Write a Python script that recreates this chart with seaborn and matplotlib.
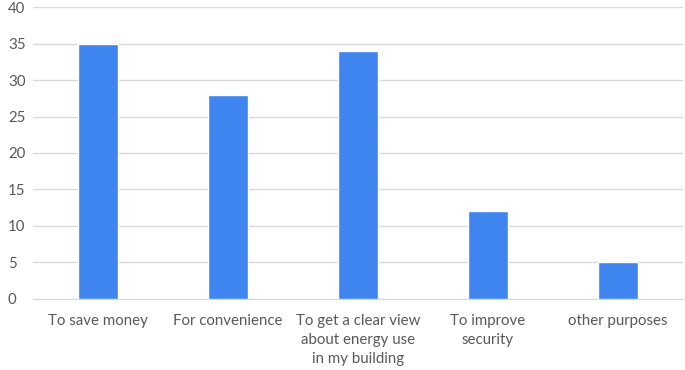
import matplotlib
matplotlib.use("Agg")
import pandas as pd
import seaborn as sns
import matplotlib.pyplot as plt

categories = ["To save money", "For convenience",
              "To get a clear view\nabout energy use\nin my building",
              "To improve\nsecurity", "other purposes"]
counts = [35, 28, 34, 12, 5]
y_ticks = [0, 5, 10, 15, 20, 25, 30, 35, 40]

sns.set_style("white")
plt.rcParams["font.family"] = ["Lato", "DejaVu Sans"]

dfr = pd.DataFrame({"category": categories, "count": counts})

fig = plt.figure(figsize=(6.85, 3.70), dpi=100)
ax = fig.add_axes([0.048, 0.192, 0.949, 0.789])
sns.barplot(data=dfr, x="category", y="count", color="#3f85f0",
            saturation=1, width=0.31, ax=ax, zorder=3)
ax.set_ylim(0, 40)
ax.set_yticks(y_ticks)
ax.set_xlim(-0.5, len(categories) - 0.5)
ax.yaxis.grid(True, color="#d9d9d9", linewidth=1, zorder=0)
ax.set_xlabel("")
ax.set_ylabel("")
ax.tick_params(axis="both", length=0, labelsize=10.8, colors="#595959")
ax.tick_params(axis="x", pad=11)
ax.tick_params(axis="y", pad=18)
for lbl in ax.get_yticklabels():
    lbl.set_horizontalalignment("left")
for lbl in ax.get_xticklabels():
    lbl.set_linespacing(1.45)
for side in ["top", "right", "left"]:
    ax.spines[side].set_visible(False)
ax.spines["bottom"].set_color("#d9d9d9")

fig.savefig("out.png", dpi=100)
